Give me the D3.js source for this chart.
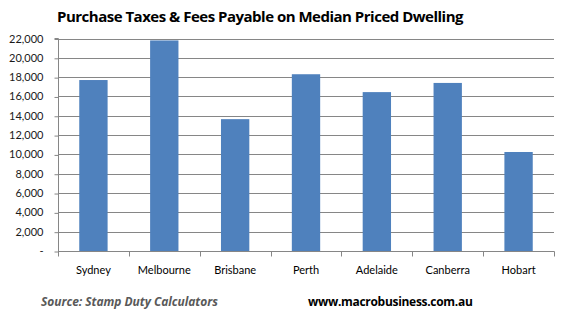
<!DOCTYPE html>
<html>
<head>
<meta charset="utf-8">
<script src="https://cdn.jsdelivr.net/npm/d3@7"></script>
<style>
  html, body { margin: 0; padding: 0; background: #fff; }
  svg { display: block; }
</style>
</head>
<body>
<svg id="chart" width="567" height="327"></svg>
<script>
// Purchase taxes & fees on a median priced dwelling, by capital city
const cities = ["Sydney", "Melbourne", "Brisbane", "Perth", "Adelaide", "Canberra", "Hobart"];
const taxes = [17700, 21800, 13650, 18300, 16450, 17400, 10250];
const yTicks = [0, 2000, 4000, 6000, 8000, 10000, 12000, 14000, 16000, 18000, 20000, 22000];

const svg = d3.select("#chart");
const font = "Lato, 'Open Sans', sans-serif";
const plot = { left: 58, right: 554, top: 38.5, bottom: 251 };

const x = d3.scaleBand().domain(cities).range([plot.left, plot.right]).paddingInner(0.6).paddingOuter(0.3);
const xTicks = d3.scaleBand().domain(cities).range([plot.left, plot.right]);
const y = d3.scaleLinear().domain([0, 22000]).range([plot.bottom, plot.top]);

// title
svg.append("text")
  .attr("x", 260).attr("y", 22)
  .attr("text-anchor", "middle")
  .style("font-family", "'Open Sans', sans-serif")
  .style("font-weight", "bold")
  .style("font-size", "15px")
  .style("letter-spacing", "-0.5px")
  .attr("fill", "#000")
  .text("Purchase Taxes & Fees Payable on Median Priced Dwelling");

// gridlines
svg.append("g")
  .selectAll("line")
  .data(yTicks.filter(d => d > 0))
  .join("line")
  .attr("x1", plot.left).attr("x2", plot.right)
  .attr("y1", d => Math.round(y(d)) + 0.5).attr("y2", d => Math.round(y(d)) + 0.5)
  .attr("stroke", "#868686").attr("stroke-width", 1);

// bars
svg.append("g")
  .selectAll("rect")
  .data(cities)
  .join("rect")
  .attr("x", (d) => x(d))
  .attr("width", x.bandwidth())
  .attr("y", (d, i) => y(taxes[i]))
  .attr("height", (d, i) => y(0) - y(taxes[i]))
  .attr("fill", "#4F81BD");

// y axis
const yAxis = d3.axisLeft(y)
  .tickValues(yTicks)
  .tickSize(4)
  .tickFormat(d => d === 0 ? "-" : d3.format(",")(d));
const gy = svg.append("g")
  .attr("transform", `translate(${plot.left + 0.5},0)`)
  .call(yAxis);
gy.select(".domain").attr("stroke", "#868686").attr("d", `M-4,${plot.top}H0V${plot.bottom}`);
gy.selectAll(".tick line").attr("stroke", "#868686").attr("transform", "translate(0,0.5)");
gy.selectAll(".tick text")
  .attr("x", -15)
  .style("font-family", font)
  .style("font-size", "11px")
  .attr("fill", "#1a1a1a");

// x axis
const gx = svg.append("g")
  .attr("transform", `translate(0,${plot.bottom + 0.5})`);
gx.append("line")
  .attr("x1", plot.left).attr("x2", plot.right + 0.5)
  .attr("stroke", "#868686");
gx.selectAll("line.tick")
  .data(cities.map(c => xTicks(c)).concat([plot.right]))
  .join("line")
  .attr("class", "tick")
  .attr("x1", d => Math.round(d) + 0.5).attr("x2", d => Math.round(d) + 0.5)
  .attr("y1", 0).attr("y2", 5)
  .attr("stroke", "#868686");
gx.selectAll("text")
  .data(cities)
  .join("text")
  .attr("x", d => xTicks(d) + xTicks.bandwidth() / 2)
  .attr("y", 22)
  .attr("text-anchor", "middle")
  .style("font-family", font)
  .style("font-size", "11px")
  .attr("fill", "#000")
  .text(d => d);

// footer
svg.append("text")
  .attr("x", 41).attr("y", 306)
  .style("font-family", "'Open Sans', sans-serif")
  .style("font-weight", "bold")
  .style("font-style", "italic")
  .style("font-size", "12px")
  .style("letter-spacing", "-0.05px")
  .attr("fill", "#595959")
  .text("Source: Stamp Duty Calculators");

svg.append("text")
  .attr("x", 308).attr("y", 306)
  .style("font-family", "'Open Sans', sans-serif")
  .style("font-weight", "bold")
  .style("font-size", "12px")
  .style("letter-spacing", "-0.3px")
  .attr("fill", "#000")
  .text("www.macrobusiness.com.au");
</script>
</body>
</html>
